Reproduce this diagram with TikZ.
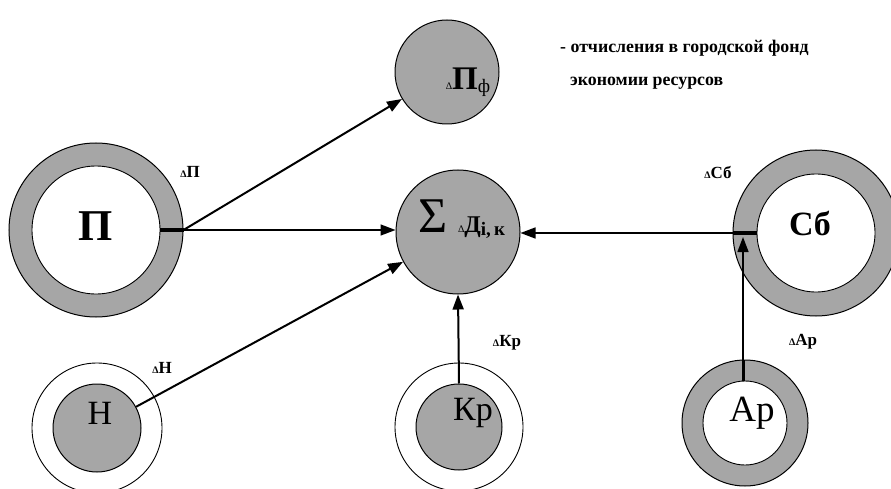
\documentclass[tikz,border=0pt]{standalone}
\usepackage{fontspec}
\setmainfont{Liberation Serif}
\usetikzlibrary{arrows.meta}
\newcommand\mydlt{{\fontsize{10}{10}\selectfont Δ}}
\begin{document}
\begin{tikzpicture}[x=1pt,y=-1pt,
  shade/.style={circle, draw=black, line width=1pt, fill=black!35, inner sep=0pt},
  hole/.style={circle, draw=black, line width=0.9pt, fill=white, inner sep=0pt},
  thinring/.style={circle, draw=black, line width=0.9pt, inner sep=0pt},
  arr/.style={line width=1.4pt, -{Triangle[length=15pt,width=11pt]}},
  lbl/.style={font=\fontsize{17}{17}\selectfont\bfseries, inner sep=0pt},
  legend/.style={font=\fontsize{17.8}{17.8}\selectfont\bfseries, inner sep=0pt, anchor=west},
  big/.style={inner sep=0pt},
]
\useasboundingbox (0,0) rectangle (891,489);

% П
\node[shade, minimum size=174pt] (P) at (96,230) {};
\node[hole, minimum size=128pt] (Pi) at (96,230) {};
\node[big, font=\fontsize{44}{44}\selectfont\bfseries] (Pt) at (96,226) {П};
\node[lbl] (Pl) at (190,172) {\mydlt П};

% ΔПф
\node[shade, minimum size=104pt] (Pf) at (447,72) {};
\node[big, anchor=base] (Pft) at (468,90) {\mydlt{\fontsize{33}{33}\selectfont\bfseries П}\raisebox{-3pt}{\fontsize{19}{19}\selectfont ф}};

% legend
\node[legend] (L1) at (560,48) {- отчисления в городской фонд};
\node[legend] (L2) at (570,83) {экономии ресурсов};

% Σ
\node[shade, minimum size=124pt] (S) at (458,232) {};
\node[big, anchor=base] (St) at (462,233) {{\fontsize{50}{50}\selectfont Σ}\hspace{10pt}\mydlt{\fontsize{24}{24}\selectfont\bfseries Д}\raisebox{-2pt}{\fontsize{19}{19}\selectfont\bfseries i,\,к}};

% Сб
\node[shade, minimum size=166pt] (C) at (816,233) {};
\node[hole, minimum size=118pt] (Ci) at (816,233) {};
\node[big, font=\fontsize{34}{34}\selectfont\bfseries] (Ct) at (810,223) {Сб};
\node[lbl] (Cl) at (718,172) {\mydlt Сб};

% Ар
\node[shade, minimum size=126pt] (Ap) at (745,423) {};
\node[hole, minimum size=84pt] (Api) at (745,423) {};
\node[big, font=\fontsize{37}{37}\selectfont] (Apt) at (752,413) {Ар};
\node[lbl] (Apl) at (803,342) {\mydlt Ар};

% Н
\node[thinring, minimum size=130pt] (Ho) at (97,428) {};
\node[shade, minimum size=88pt] (Hi) at (97,428) {};
\node[big, font=\fontsize{34}{34}\selectfont] (Ht) at (100,413) {Н};
\node[lbl] (Hl) at (162,368) {\mydlt Н};

% Кр
\node[thinring, minimum size=128pt] (Kpo) at (459,427) {};
\node[shade, minimum size=86pt] (Kpi) at (459,427) {};
\node[big, font=\fontsize{34}{34}\selectfont] (Kpt) at (473,413) {Кр};
\node[lbl] (Kpl) at (507,343) {\mydlt Кр};

% connectors
\draw[line width=4pt] (Pi.east) -- (P.east);
\draw[arr, line width=2pt] (P.east) -- (Pf);
\draw[arr] (P.east) -- (P.east -| S.west);
\draw[line width=4pt] (Ci.west) -- (C.west);
\draw[arr] (C.west) -- (C.west -| S.east);
\coordinate (apend) at (743,237);
\draw[line width=3pt] (Api.north -| apend) -- (Ap.north -| apend);
\draw[arr] (Api.north -| apend) -- (apend);
\draw[arr, line width=2pt] (Kpi.north) -- (S.south);
\draw[arr, line width=2pt] (Hi) -- (S);
\end{tikzpicture}
\end{document}
